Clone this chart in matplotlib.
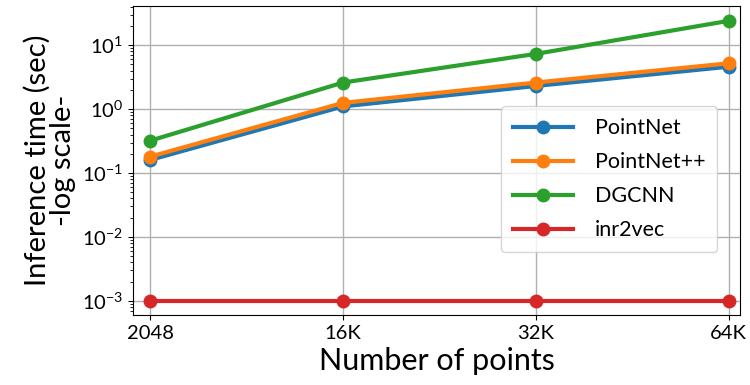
import matplotlib
matplotlib.use("Agg")
import matplotlib.pyplot as plt
import numpy as np

plt.rcParams['font.family'] = ['Lato', 'DejaVu Sans']
plt.rcParams['mathtext.fontset'] = 'custom'
plt.rcParams['mathtext.rm'] = 'Lato'

# data
npoints = ["2048", "16K", "32K", "64K"]
pointnet = [0.16, 1.1, 2.3, 4.6]
pointnetpp = [0.18, 1.25, 2.6, 5.2]
dgcnn = [0.32, 2.6, 7.3, 24]
inr2vec = [0.001, 0.001, 0.001, 0.001]

x = np.arange(len(npoints))
fig, ax = plt.subplots(figsize=(7.5, 3.85), dpi=100)
for y, name, c in [(pointnet, "PointNet", "#1f77b4"),
                   (pointnetpp, "PointNet++", "#ff7f0e"),
                   (dgcnn, "DGCNN", "#2ca02c"),
                   (inr2vec, "inr2vec", "#d62728")]:
    ax.plot(x, y, marker='o', lw=3, ms=9, color=c, label=name)

ax.set_yscale('log')
ax.set_ylim(10**-3.22, 10**1.61)
ax.set_xlim(-0.09, 3.06)
ax.set_xticks(x)
ax.set_xticklabels(npoints)
ax.tick_params(labelsize=14.5)
ax.grid(True, color='#b0b0b0', lw=1)
ax.set_xlabel("Number of points", fontsize=22)
ax.set_ylabel("Inference time (sec)\n-log scale-", fontsize=21, linespacing=1.0)
ax.legend(fontsize=15.5, loc='center right', bbox_to_anchor=(0.98, 0.44),
          handlelength=2.8, labelspacing=0.65, handletextpad=1.0, borderpad=0.55)

plt.subplots_adjust(left=0.177, right=0.987, top=0.984, bottom=0.182)
fig.savefig("out.png", dpi=100)
